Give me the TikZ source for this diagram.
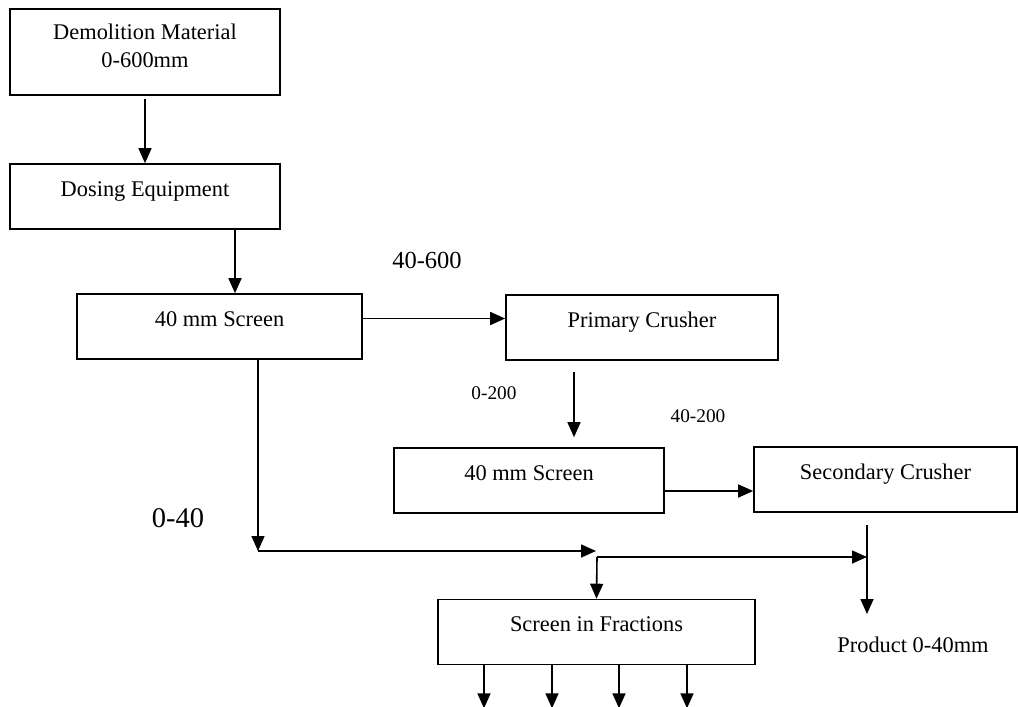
\documentclass[tikz,border=0pt]{standalone}
\usepackage{fontspec}
\setmainfont{Liberation Serif}
\usetikzlibrary{arrows.meta}

\begin{document}
\begin{tikzpicture}[x=1pt, y=-1pt, line width=1.6pt,
		>={Triangle[length=15pt,width=13pt]},
		stage/.style={draw, rectangle, inner sep=0pt, text height=32pt,
			text depth=33pt, font=\fontsize{22.4}{28}\selectfont},
		tag/.style={inner sep=0pt, font=\fontsize{22.4}{28}\selectfont}]
		\useasboundingbox (0,0) rectangle (1018,707);
		\node[stage, align=center, text height=58pt, text depth=28pt,
		minimum width=270pt] (demolition) at (145,52)
		{Demolition Material\\0-600mm};
		\node[stage, minimum width=270pt] (dosing) at (145,196.5) {Dosing Equipment};
		\node[stage, minimum width=285pt] (screenA) at (219.5,326.5) {40 mm Screen};
		\node[stage, minimum width=272pt] (primary) at (642,327.5) {Primary Crusher};
		\node[stage, minimum width=270pt] (screenB) at (529,480.5) {40 mm Screen};
		\node[stage, minimum width=263pt] (secondary) at (885.5,479.5) {Secondary Crusher};
		\node[stage, minimum width=317pt] (fractions) at (596.5,632) {Screen in Fractions};
		\node[tag, font=\fontsize{24.5}{30}\selectfont] (big600) at (427,260) {40-600};
		\node[tag, font=\fontsize{19.3}{24}\selectfont] (small200) at (494,393) {0-200};
		\node[tag, font=\fontsize{19.3}{24}\selectfont] (mid200) at (698,416) {40-200};
		\node[tag, font=\fontsize{28.5}{34}\selectfont] (big40) at (178,518) {0-40};
		\node[tag] (product) at (913,645) {Product 0-40mm};
		\coordinate (m1) at (258,551);
		\coordinate (m2) at (596,551);
		\coordinate (m3) at (597,557);
		\coordinate (m4) at (867,557);
		\coordinate (m5) at (867,525);
		\coordinate (m6) at (867,614);
		\draw[->] ([yshift=-3pt]demolition.south) -- (dosing.north);
		\draw[->] ([xshift=90pt]dosing.south) -- ([xshift=15.5pt]screenA.north);
		\draw[->] ([yshift=8pt]screenA.east) -- ([yshift=8pt]screenA.east -| primary.west);
		\draw[->] ([shift={(-68pt,-11pt)}]primary.south) -- ([shift={(45pt,10pt)}]screenB.north);
		\draw[->] ([yshift=-10.5pt]screenB.east) -- ([yshift=-10.5pt]screenB.east -| secondary.west);
		\draw[->] ([xshift=38.5pt]screenA.south) -- (m1);
		\draw[->] (m1) -- (m2);
		\draw[->] (m3) -- (m4);
		\draw[->] (m3) -- (fractions.north);
		\draw[->] (m5) -- (m6);
		\foreach \dx in {-112.5,-44.5,22.5,90.5}
		\draw[->] ([xshift=\dx pt]fractions.south) -- ++(0,43);
	\end{tikzpicture}
\end{document}
